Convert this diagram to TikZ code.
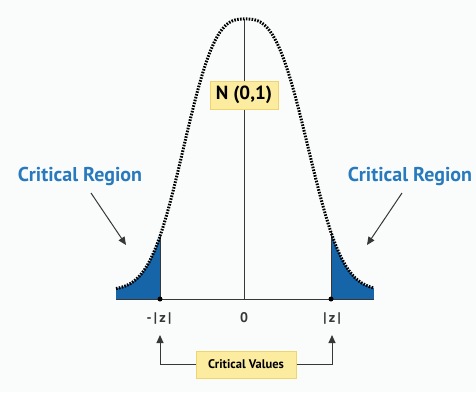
\documentclass[tikz,border=0pt]{standalone}
\usepackage{fontspec}
\setmainfont{PT Sans}
\usetikzlibrary{arrows.meta}
\definecolor{bg}{RGB}{250,252,252}
\definecolor{critblue}{RGB}{21,101,168}
\definecolor{textblue}{RGB}{40,122,190}
\definecolor{boxfill}{RGB}{252,236,160}
\definecolor{boxline}{RGB}{240,212,110}
\definecolor{linegray}{RGB}{55,55,55}
\begin{document}
\begin{tikzpicture}[x=1pt,y=-1pt,
  declare function={bellh(\t)=268*exp(-((abs(\t-245)+0.001)/((\t<245)?71.5:73.5))^2.85)+12*exp(-((\t-245)/250)^2);},
  regionlabel/.style={text=textblue,font=\fontsize{20}{22}\selectfont\bfseries,inner sep=0pt},
  ybox/.style={fill=boxfill,draw=boxline,line width=1pt,text=black,inner sep=0pt},
  ticklabel/.style={font=\fontsize{14}{16}\selectfont\bfseries,text=linegray,inner sep=0pt},
  pointer/.style={draw=linegray,line width=1pt,-{Triangle[length=8pt,width=7pt]}},
  bellcurve/.style={line width=3pt,dash pattern=on 1.6pt off 1.3pt,black},
  thinline/.style={draw=linegray,line width=1pt},
]
\fill[bg] (0,0) rectangle (476,392);
\useasboundingbox (0,0) rectangle (476,392);

% shaded critical regions
\begin{scope}
\clip (116,299) -- plot[domain=116:374,samples=130] (\x,{299-bellh(\x)}) -- (374,299) -- cycle;
\fill[critblue] (116,200) rectangle (160,299);
\fill[critblue] (331,200) rectangle (374,299);
\end{scope}

% axis and vertical lines
\coordinate (axl) at (116,299);
\coordinate (axr) at (374,299);
\coordinate (peak) at (244,19);
\coordinate (base) at (244,299);
\coordinate (lcrit) at (160,299);
\coordinate (lcrittop) at (160,236);
\coordinate (rcrit) at (331,299);
\coordinate (rcrittop) at (331,232);
\draw[thinline] (axl) -- (axr);
\draw[thinline] (peak) -- (base);
\draw[thinline] (lcrit) -- (lcrittop);
\draw[thinline] (rcrit) -- (rcrittop);

% bell curve
\draw[bellcurve] plot[domain=116:374,samples=130,smooth] (\x,{299-bellh(\x)});

\fill[black] (lcrit) circle (2.5);
\fill[black] (rcrit) circle (2.5);

% labels
\node[ybox,minimum width=68pt,minimum height=28pt,font=\fontsize{19}{21}\selectfont\bfseries] (dist) at (244,95) {N (0,1)};

\node[regionlabel] (lreg) at (80,176) {Critical Region};
\node[regionlabel] (rreg) at (410,176) {Critical Region};
\coordinate (lstart) at (91,193);
\coordinate (ltip) at (126,245);
\coordinate (rstart) at (402,193);
\coordinate (rtip) at (367,245);
\draw[pointer] (lstart) -- (ltip);
\draw[pointer] (rstart) -- (rtip);

\node[ticklabel] (zneg) at (159,318) {-\,|\,z\,|};
\node[ticklabel] (zero) at (244,318) {0};
\node[ticklabel] (zpos) at (332,318) {|\,z\,|};

\node[ybox,minimum width=100pt,minimum height=27pt,font=\fontsize{12.5}{14}\selectfont\bfseries] (cv) at (246,364.5) {Critical Values};
\coordinate (lvtip) at (160,335);
\coordinate (rvtip) at (332,335);
\draw[pointer] (cv.west) -| (lvtip);
\draw[pointer] (cv.east) -| (rvtip);
\end{tikzpicture}
\end{document}
